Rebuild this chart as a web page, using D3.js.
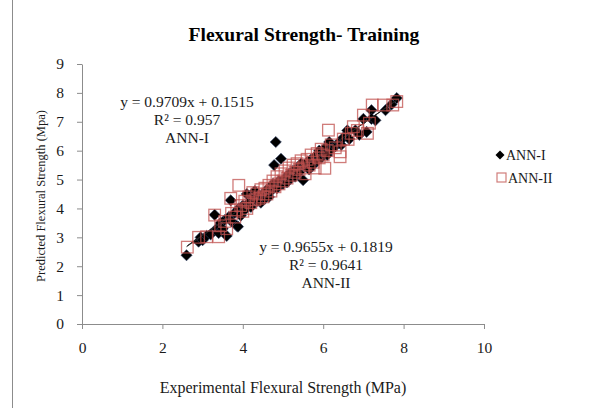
<!DOCTYPE html>
<html><head><meta charset="utf-8">
<script src="https://cdn.jsdelivr.net/npm/d3@7"></script>
<style>body{margin:0;background:#fff}svg{display:block}text{font-family:"Liberation Serif","Times New Roman",serif;fill:#1a1a1a}</style>
</head><body>
<script>
const title = "Flexural Strength- Training";
const xTicks = [0, 2, 4, 6, 8, 10];
const yTicks = [0, 1, 2, 3, 4, 5, 6, 7, 8, 9];
const seriesNames = ["ANN-I", "ANN-II"];
const annIx = [2.6,2.9,2.95,3.0,3.1,3.2,3.3,3.35,3.4,3.45,3.5,3.55,3.6,3.65,3.7,3.72,3.8,3.85,3.88,3.9,3.95,4.0,4.05,4.1,4.15,4.2,4.25,4.3,4.35,4.4,4.45,4.5,4.55,4.6,4.65,4.7,4.75,4.78,4.82,4.85,4.9,4.95,5.0,5.05,5.1,5.15,5.2,5.25,5.3,5.35,5.4,5.45,5.5,5.55,5.6,5.65,5.7,5.75,5.8,5.85,5.9,5.95,6.0,6.05,6.1,6.15,6.2,6.3,6.4,6.45,6.5,6.6,6.65,6.8,6.9,7.0,7.08,7.2,7.2,7.3,7.55,7.7,7.83];
const annIy = [2.38,2.85,3.0,2.9,3.05,3.1,3.78,3.3,3.15,3.5,3.3,3.6,3.05,3.7,4.28,3.55,3.85,3.4,3.37,4.0,3.75,4.1,3.95,4.5,4.2,4.05,4.35,4.6,4.25,4.45,4.2,4.5,4.35,4.65,4.4,4.6,4.85,5.5,6.3,4.7,4.95,5.72,4.85,5.05,4.9,5.2,5.05,5.3,5.1,5.4,5.25,5.55,4.98,5.45,5.6,5.35,5.7,5.5,5.8,5.65,6.0,5.75,5.9,6.1,5.85,6.3,6.05,6.15,6.3,6.2,6.45,6.7,6.4,6.7,6.55,7.1,6.65,7.4,7.1,7.05,7.4,7.6,7.82];
const annIIx = [2.62,2.9,3.1,3.3,3.4,3.45,3.55,3.6,3.7,3.72,3.8,3.85,3.9,3.95,4.0,4.05,4.1,4.15,4.2,4.25,4.3,4.35,4.4,4.45,4.5,4.55,4.6,4.65,4.7,4.75,4.8,4.85,4.9,4.95,5.0,5.05,5.1,5.15,5.2,5.25,5.3,5.35,5.4,5.45,5.5,5.55,5.6,5.65,5.7,5.75,5.8,5.85,5.9,5.95,6.0,6.04,6.1,6.13,6.2,6.3,6.42,6.42,6.5,6.62,6.7,6.75,6.85,7.0,7.1,7.15,7.22,7.5,7.73,7.83];
const annIIy = [2.66,3.0,3.02,3.77,3.02,3.4,3.55,3.3,4.35,3.83,3.7,3.95,4.8,4.1,3.9,4.25,4.0,4.4,4.2,4.55,4.3,4.5,4.35,4.65,4.4,4.7,4.5,4.8,4.6,4.95,4.75,5.1,4.85,5.2,4.95,5.3,5.05,5.4,5.15,5.5,5.25,5.55,5.35,5.65,5.4,5.2,5.7,5.5,5.85,5.6,5.4,5.9,5.75,6.05,5.85,5.39,6.0,6.71,6.2,6.1,5.96,5.79,6.4,6.39,6.6,6.83,6.7,7.23,6.6,6.95,7.58,7.58,7.58,7.7];
const fitSlope = [0.9709, 0.9655];
const fitIntercept = [0.1515, 0.1819];
const fitR2 = ["0.957", "0.9641"];

const W = 596, H = 408;
const svg = d3.select("body").append("svg").attr("width", W).attr("height", H);
const x = d3.scaleLinear().domain([0, 10]).range([82, 484]);
const y = d3.scaleLinear().domain([0, 9]).range([324, 64]);

svg.append("line").attr("x1", 12.5).attr("x2", 12.5).attr("y1", 0).attr("y2", H).attr("stroke", "#8c8c8c").attr("stroke-width", 1);

svg.append("text").attr("x", 304).attr("y", 41).attr("text-anchor", "middle")
  .style("font-weight", "bold").style("font-size", "19.5px").style("fill", "#000").text(title);

const axisColor = "#8c8c8c";
const gx = svg.append("g").attr("transform", "translate(0,324)")
  .call(d3.axisBottom(x).tickValues(xTicks).tickSize(5).tickSizeOuter(0).tickPadding(13));
const gy = svg.append("g").attr("transform", "translate(82,0)")
  .call(d3.axisLeft(y).tickValues(yTicks).tickSize(5).tickSizeOuter(0).tickPadding(13));
[gx, gy].forEach(g => {
  g.select(".domain").attr("stroke", axisColor);
  g.selectAll(".tick line").attr("stroke", axisColor);
  g.selectAll(".tick text").style("font-size", "15.5px").style("font-family", "Liberation Serif, serif").attr("fill", "#1a1a1a");
});

svg.append("text").attr("x", 283).attr("y", 393).attr("text-anchor", "middle").style("font-size", "16px")
  .text("Experimental Flexural Strength (MPa)");
svg.append("text").attr("transform", "translate(45,196) rotate(-90)").attr("text-anchor", "middle").style("font-size", "12.5px")
  .text("Predicted Flexural Strength (Mpa)");

const d1 = annIx.map((v, i) => [v, annIy[i]]);
const d2 = annIIx.map((v, i) => [v, annIIy[i]]);
const diamond = "M0,-5.6L5.6,0L0,5.6L-5.6,0Z";

svg.append("g").selectAll("path").data(d1).join("path")
  .attr("d", diamond).attr("transform", d => `translate(${x(d[0])},${y(d[1])})`)
  .attr("fill", "#000").attr("stroke", "#2d3f66").attr("stroke-width", 0.6);

// trendlines
[d1, d2].forEach((d, k) => {
  const xs = d3.extent(d, p => p[0]);
  svg.append("line")
    .attr("x1", x(xs[0])).attr("y1", y(fitSlope[k] * xs[0] + fitIntercept[k]))
    .attr("x2", x(xs[1])).attr("y2", y(fitSlope[k] * xs[1] + fitIntercept[k]))
    .attr("stroke", "#222").attr("stroke-width", 1);
});

svg.append("g").selectAll("rect").data(d2).join("rect")
  .attr("x", d => x(d[0]) - 5.8).attr("y", d => y(d[1]) - 5.8).attr("width", 11.6).attr("height", 11.6)
  .attr("fill", "none").attr("stroke", "#c0504d").attr("stroke-opacity", 0.75).attr("stroke-width", 1.3);

// equations
function eq(cx, cy, k) {
  const g = svg.append("g").style("font-size", "15.5px").attr("text-anchor", "middle");
  g.append("text").attr("x", cx).attr("y", cy).text(`y = ${fitSlope[k]}x + ${fitIntercept[k]}`);
  g.append("text").attr("x", cx).attr("y", cy + 18).text(`R² = ${fitR2[k]}`);
  g.append("text").attr("x", cx).attr("y", cy + 36).text(seriesNames[k]);
}
eq(187, 107, 0);
eq(326, 252, 1);

// legend
const lg = svg.append("g");
lg.append("path").attr("d", "M0,-4.5L4.5,0L0,4.5L-4.5,0Z").attr("transform", "translate(500,155)").attr("fill", "#000");
lg.append("text").attr("x", 506).attr("y", 160).style("font-size", "14px").text(seriesNames[0]);
lg.append("rect").attr("x", 497).attr("y", 173).attr("width", 9).attr("height", 9).attr("fill", "none")
  .attr("stroke", "#c0504d").attr("stroke-opacity", 0.75).attr("stroke-width", 1.2);
lg.append("text").attr("x", 508).attr("y", 182.5).style("font-size", "14px").text(seriesNames[1]);
</script>
</body></html>
